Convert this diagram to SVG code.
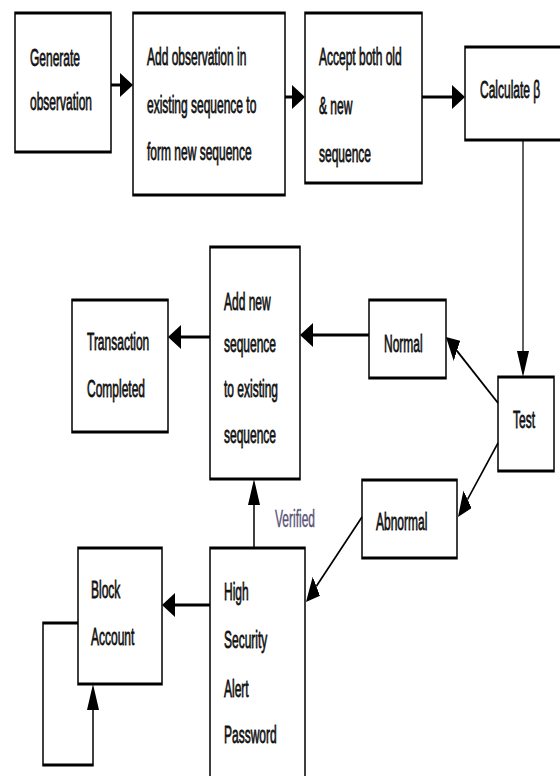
<svg xmlns="http://www.w3.org/2000/svg" width="560" height="776" viewBox="0 0 560 776">
<style>
.box{fill:#fff;stroke:#000;stroke-width:3}
.t{font-family:"Liberation Sans",Arial,sans-serif;font-size:24px;fill:#111;stroke:#111;stroke-width:0.8}
.v{font-family:"Liberation Sans",Arial,sans-serif;font-size:24px;fill:#5a5478;stroke:#5a5478;stroke-width:0.5}
.c{fill:none;stroke:#000;stroke-width:3}
.d{fill:none;stroke:#000;stroke-width:2.5}
</style>
<defs>
<marker id="ah" markerUnits="userSpaceOnUse" markerWidth="26" markerHeight="24" viewBox="0 0 26 24" refX="0" refY="12" orient="auto">
<path d="M0,0 L26,12 L0,24 z" fill="#000"/>
</marker>
</defs>
<rect width="560" height="776" fill="#fff"/>
<g transform="scale(0.5 1)">
<g id="n1"><rect class="box" x="30" y="13" width="192" height="139"/><text class="t" x="60" y="66">Generate</text><text class="t" x="60" y="110">observation</text></g>
<g id="n2"><rect class="box" x="266" y="13" width="304" height="182"/><text class="t" x="294" y="65">Add observation in</text><text class="t" x="294" y="113">existing sequence to</text><text class="t" x="294" y="160">form new sequence</text></g>
<g id="n3"><rect class="box" x="610" y="13" width="234" height="170"/><text class="t" x="638" y="65">Accept both old</text><text class="t" x="638" y="114">&amp; new</text><text class="t" x="638" y="162">sequence</text></g>
<g id="n4"><rect class="box" x="930" y="47" width="220" height="93"/><text class="t" x="960" y="98">Calculate β</text></g>
<g id="n5"><rect class="box" x="996" y="377" width="112" height="94"/><text class="t" x="1026" y="428">Test</text></g>
<g id="n6"><rect class="box" x="738" y="300" width="154" height="78"/><text class="t" x="768" y="352">Normal</text></g>
<g id="n7"><rect class="box" x="420" y="247" width="180" height="232"/><text class="t" x="448" y="310">Add new</text><text class="t" x="448" y="352">sequence</text><text class="t" x="448" y="397">to existing</text><text class="t" x="448" y="443">sequence</text></g>
<g id="n8"><rect class="box" x="144" y="300" width="192" height="132"/><text class="t" x="174" y="350">Transaction</text><text class="t" x="174" y="397">Completed</text></g>
<g id="n9"><rect class="box" x="724" y="480" width="190" height="78"/><text class="t" x="752" y="530">Abnormal</text></g>
<g id="n10"><rect class="box" x="420" y="548" width="190" height="240"/><text class="t" x="448" y="600">High</text><text class="t" x="448" y="648">Security</text><text class="t" x="448" y="697">Alert</text><text class="t" x="448" y="743">Password</text></g>
<g id="n11"><rect class="box" x="156" y="548" width="168" height="136"/><text class="t" x="182" y="598">Block</text><text class="t" x="182" y="645">Account</text></g>
<g id="connectors">
<path class="c" d="M222,85 L240,85" marker-end="url(#ah)"/>
<path class="c" d="M570,97 L584,97" marker-end="url(#ah)"/>
<path class="c" d="M844,97 L904,97" marker-end="url(#ah)"/>
<path class="d" d="M1046,140 L1046,351" marker-end="url(#ah)"/>
<path class="d" d="M996,403 L913.9,350.9" marker-end="url(#ah)"/>
<path class="d" d="M996,443 L935.1,499.3" marker-end="url(#ah)"/>
<path class="c" d="M738,335 L626,335" marker-end="url(#ah)"/>
<path class="c" d="M420,337 L362,337" marker-end="url(#ah)"/>
<path class="d" d="M724,517 L632.7,586.3" marker-end="url(#ah)"/>
<path class="c" d="M508,548 L508,505" marker-end="url(#ah)"/>
<path class="c" d="M420,605 L350,605" marker-end="url(#ah)"/>
<path class="c" d="M156,623 L86,623 L86,765 L186,765 L186,710" marker-end="url(#ah)"/>
<text class="v" x="550" y="527">Verified</text>
</g>
</g>
</svg>
